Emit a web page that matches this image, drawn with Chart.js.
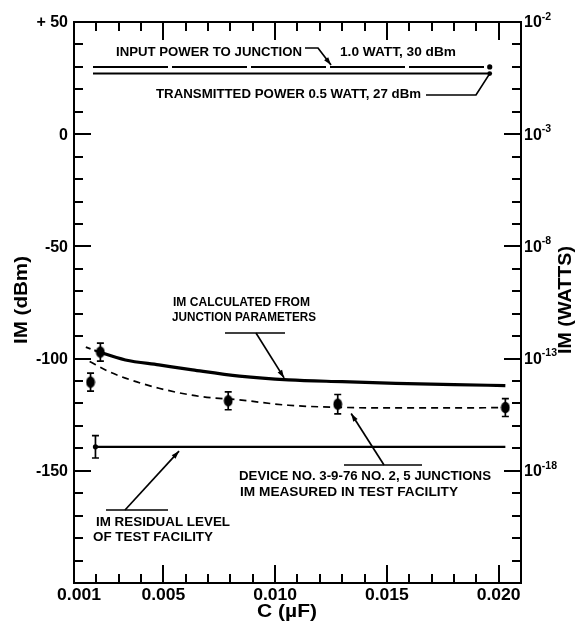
<!DOCTYPE html>
<html>
<head>
<meta charset="utf-8">
<script src="https://cdn.jsdelivr.net/npm/chart.js@4.4.0/dist/chart.umd.min.js"></script>
<style>
  html, body { margin: 0; padding: 0; background: #fff; }
  #wrap { width: 579px; height: 626px; }
</style>
</head>
<body>
<div id="wrap"><canvas id="imChart" width="579" height="626"></canvas></div>
<script>
// capacitance C in µF, IM level in dBm
const measuredC   = [0.00174, 0.00218, 0.0079, 0.0128, 0.0203];
const measuredIM  = [-110.5, -97.1, -118.8, -120.3, -121.8];
const measuredErr = [4, 4, 4, 4.3, 4];

const residualC   = [0.00196, 0.0203];
const residualIM  = [-139.3, -139.3];
const residualErr = 5;

const calcC  = [0.00153, 0.0022, 0.0033, 0.0048, 0.0063, 0.0084, 0.0106, 0.0130, 0.0154, 0.0180, 0.0203];
const calcIM = [-94.9, -97.3, -100.6, -102.8, -105, -107.8, -109.5, -110.3, -111, -111.6, -112];

const fitC  = [0.0017, 0.0025, 0.0033, 0.0048, 0.0066, 0.0084, 0.0106, 0.0128, 0.0154, 0.0180, 0.0203];
const fitIM = [-101.3, -105.5, -108.7, -113.2, -116.8, -118.4, -120.8, -121.7, -122, -122, -121.8];

const inputC  = [0.00185, 0.0196];
const inputIM = [30, 30];
const transC  = [0.00185, 0.0196];
const transIM = [27, 27];

const dbmTicks  = [50, 0, -50, -100, -150];
const dbmLabels = ['+ 50', '0', '-50', '-100', '-150'];
const wattExp   = ['-2', '-3', '-8', '-13', '-18'];
const cTicks    = [0.001, 0.005, 0.010, 0.015, 0.020];
const cLabels   = ['0.001', '0.005', '0.010', '0.015', '0.020'];

const pts = (xs, ys) => xs.map((x, i) => ({ x: x, y: ys[i] }));

// filled, slightly tall dot used for the measured points
const dotImg = document.createElement('canvas');
dotImg.width = 10; dotImg.height = 13;
(function () {
    const c = dotImg.getContext('2d');
    c.fillStyle = '#000';
    c.beginPath();
    c.ellipse(5, 6.5, 4.4, 5.8, 0, 0, Math.PI * 2);
    c.fill();
})();

function fitText(ctx, str, x, y, w, align) {
    const m = ctx.measureText(str).width;
    const left = align === 'center' ? x - w / 2 : (align === 'right' ? x - w : x);
    ctx.save();
    ctx.textAlign = 'left';
    ctx.translate(left, y);
    ctx.scale(w / m, 1);
    ctx.fillText(str, 0, 0);
    ctx.restore();
}

function arrowHead(ctx, fx, fy, tx, ty) {
    const ang = Math.atan2(ty - fy, tx - fx);
    const len = 8, half = 2.6;
    ctx.beginPath();
    ctx.moveTo(tx, ty);
    ctx.lineTo(tx - len * Math.cos(ang) + half * Math.sin(ang), ty - len * Math.sin(ang) - half * Math.cos(ang));
    ctx.lineTo(tx - len * Math.cos(ang) - half * Math.sin(ang), ty - len * Math.sin(ang) + half * Math.cos(ang));
    ctx.closePath();
    ctx.fill();
}

const errorBars = {
    id: 'errorBars',
    afterDatasetsDraw(chart) {
        const { ctx, scales: { x, y } } = chart;
        ctx.save();
        ctx.strokeStyle = '#000';
        ctx.lineWidth = 1.7;
        const bar = (cx, v, e) => {
            const px = x.getPixelForValue(cx);
            const top = y.getPixelForValue(v + e), bot = y.getPixelForValue(v - e);
            ctx.beginPath();
            ctx.moveTo(px, top); ctx.lineTo(px, bot);
            ctx.moveTo(px - 3.5, top); ctx.lineTo(px + 3.5, top);
            ctx.moveTo(px - 3.5, bot); ctx.lineTo(px + 3.5, bot);
            ctx.stroke();
        };
        measuredC.forEach((c, i) => bar(c, measuredIM[i], measuredErr[i]));
        bar(residualC[0], residualIM[0], residualErr);
        ctx.restore();
    }
};

const frameAndText = {
    id: 'frameAndText',
    afterDraw(chart) {
        const { ctx, chartArea: a, scales: { x, y } } = chart;
        ctx.save();
        ctx.strokeStyle = '#000';
        ctx.fillStyle = '#000';
        ctx.lineWidth = 2;
        ctx.strokeRect(a.left, a.top, a.right - a.left, a.bottom - a.top);

        // inward ticks, every 10 dBm and every 0.001 µF
        ctx.beginPath();
        for (let v = -190; v <= 40; v += 10) {
            const py = Math.round(y.getPixelForValue(v));
            const len = v % 50 === 0 ? 17 : 9;
            ctx.moveTo(a.left, py); ctx.lineTo(a.left + len, py);
            ctx.moveTo(a.right, py); ctx.lineTo(a.right - len, py);
        }
        for (let i = 2; i <= 20; i++) {
            const px = Math.round(x.getPixelForValue(i / 1000));
            const len = i % 5 === 0 ? 18 : 9;
            ctx.moveTo(px, a.bottom); ctx.lineTo(px, a.bottom - len);
            ctx.moveTo(px, a.top); ctx.lineTo(px, a.top + len);
        }
        ctx.stroke();

        // tick labels
        ctx.textBaseline = 'middle';
        ctx.font = 'bold 16px "Liberation Sans"';
        dbmTicks.forEach((v, i) => {
            ctx.textAlign = 'right';
            ctx.fillText(dbmLabels[i], a.left - 6, y.getPixelForValue(v) + 1);
        });
        dbmTicks.forEach((v, i) => {
            const py = y.getPixelForValue(v) + 1;
            ctx.textAlign = 'left';
            ctx.font = 'bold 16px "Liberation Sans"';
            ctx.fillText('10', a.right + 3, py);
            const w = ctx.measureText('10').width;
            ctx.font = 'bold 10.5px "Liberation Sans"';
            ctx.fillText(wattExp[i], a.right + 3 + w, py - 6);
        });
        ctx.font = 'bold 16px "Liberation Sans"';
        cTicks.forEach((v, i) => {
            const off = i === 0 ? 5 : 0;
            fitText(ctx, cLabels[i], x.getPixelForValue(v) + off, a.bottom + 13, 44, 'center');
        });

        // axis titles
        ctx.font = 'bold 18px "Liberation Sans"';
        fitText(ctx, 'C (\u00b5F)', 287, 612, 60, 'center');
        ctx.save();
        ctx.translate(22, 300);
        ctx.rotate(-Math.PI / 2);
        fitText(ctx, 'IM (dBm)', 0, 0, 88, 'center');
        ctx.restore();
        ctx.save();
        ctx.translate(566, 300);
        ctx.rotate(-Math.PI / 2);
        fitText(ctx, 'IM (WATTS)', 0, 0, 108, 'center');
        ctx.restore();

        // callouts
        ctx.font = 'bold 12px "Liberation Sans"';
        ctx.textBaseline = 'middle';
        const notes = [
            ['INPUT POWER TO JUNCTION', 116, 53, 186],
            ['1.0 WATT, 30 dBm', 340, 53, 116],
            ['TRANSMITTED POWER 0.5 WATT, 27 dBm', 156, 95, 265],
            ['IM CALCULATED FROM', 173, 303, 137],
            ['JUNCTION PARAMETERS', 172, 318, 144],
            ['DEVICE NO. 3-9-76 NO. 2, 5 JUNCTIONS', 239, 477, 252],
            ['IM MEASURED IN TEST FACILITY', 240, 493, 218],
            ['IM RESIDUAL LEVEL', 96, 523, 134],
            ['OF TEST FACILITY', 93, 538, 120]
        ];
        notes.forEach(n => fitText(ctx, n[0], n[1], n[2], n[3], 'left'));

        // leader lines
        ctx.lineWidth = 1.7;
        const tip = (cx, v) => [x.getPixelForValue(cx), y.getPixelForValue(v)];
        const leader = (path, t, head) => {
            ctx.beginPath();
            ctx.moveTo(path[0][0], path[0][1]);
            for (let i = 1; i < path.length; i++) ctx.lineTo(path[i][0], path[i][1]);
            ctx.lineTo(t[0], t[1]);
            ctx.stroke();
            if (head) {
                const p = path[path.length - 1];
                arrowHead(ctx, p[0], p[1], t[0], t[1]);
            }
        };
        leader([[305, 48], [318, 48]], tip(0.0125, 30.8), true);
        leader([[426, 95], [476, 95]], tip(0.0196, 27), false);
        ctx.beginPath(); ctx.moveTo(225, 333); ctx.lineTo(285, 333); ctx.stroke();
        leader([[256, 333]], tip(0.0104, -108.6), true);
        ctx.beginPath(); ctx.moveTo(344, 465); ctx.lineTo(422, 465); ctx.stroke();
        leader([[384, 465]], tip(0.0134, -124.5), true);
        ctx.beginPath(); ctx.moveTo(106, 510); ctx.lineTo(168, 510); ctx.stroke();
        leader([[125, 510]], tip(0.0057, -141.2), true);

        ctx.restore();
    }
};

new Chart(document.getElementById('imChart'), {
    type: 'line',
    data: {
        datasets: [
            {
                data: pts(inputC, inputIM),
                borderColor: '#000', borderWidth: 2, borderDash: [75, 4],
                pointRadius: [0, 2.6], pointBackgroundColor: '#000', pointBorderWidth: 0
            },
            {
                data: pts(transC, transIM),
                borderColor: '#000', borderWidth: 2,
                pointRadius: [0, 2.4], pointBackgroundColor: '#000', pointBorderWidth: 0
            },
            {
                data: pts(calcC, calcIM),
                borderColor: '#000', borderWidth: 3.2, tension: 0.4,
                cubicInterpolationMode: 'monotone', pointRadius: 0,
                segment: {
                    borderDash: c => c.p0DataIndex === 0 ? [5, 4] : undefined,
                    borderWidth: c => c.p0DataIndex === 0 ? 2 : undefined
                }
            },
            {
                data: pts(fitC, fitIM),
                borderColor: '#000', borderWidth: 1.7, borderDash: [7, 5],
                tension: 0.4, cubicInterpolationMode: 'monotone', pointRadius: 0
            },
            {
                data: pts(residualC, residualIM),
                borderColor: '#000', borderWidth: 2.2,
                pointRadius: [2.6, 0], pointBackgroundColor: '#000', pointBorderWidth: 0
            },
            {
                data: pts(measuredC, measuredIM),
                showLine: false, pointStyle: dotImg, pointRadius: 4
            }
        ]
    },
    options: {
        responsive: false,
        animation: false,
        devicePixelRatio: 1,
        layout: { padding: { left: 74, right: 58, top: 22, bottom: 43 } },
        plugins: { legend: { display: false }, tooltip: { enabled: false } },
        scales: {
            x: { type: 'linear', min: 0.001, max: 0.021, display: false },
            y: { type: 'linear', min: -200, max: 50, display: false }
        }
    },
    plugins: [errorBars, frameAndText]
});
</script>
</body>
</html>
